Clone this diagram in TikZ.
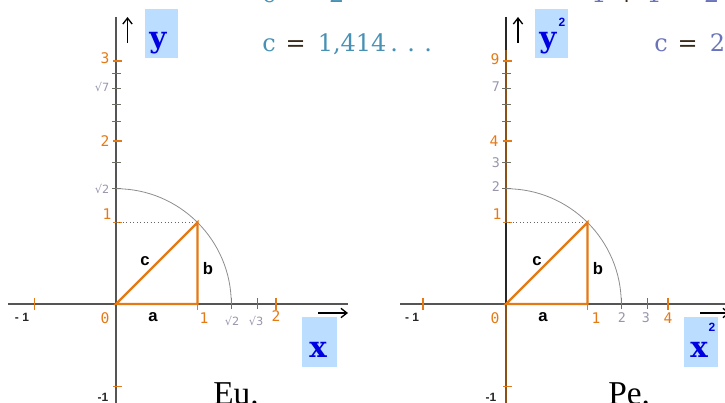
\documentclass[tikz,border=0pt]{standalone}
\usepackage{fontspec}
\setmainfont{DejaVu Serif}
\newfontfamily\monof{DejaVu Sans Mono}
\newfontfamily\sansf{DejaVu Sans}
\newfontfamily\arialf{Liberation Sans}
\newfontfamily\serifb{DejaVu Serif}
\newfontfamily\timesf{Liberation Serif}
\usetikzlibrary{arrows.meta}
\definecolor{orng}{RGB}{228,122,22}
\definecolor{lgray}{RGB}{150,150,172}
\definecolor{axgray}{RGB}{85,85,85}
\definecolor{tkgray}{RGB}{110,110,100}
\definecolor{arcgray}{RGB}{140,140,140}
\definecolor{boxblue}{RGB}{187,221,255}
\definecolor{vblue}{RGB}{0,0,225}
\definecolor{tealc}{RGB}{72,145,180}
\definecolor{slatec}{RGB}{105,115,185}
\definecolor{opc}{RGB}{55,40,25}
\definecolor{brownax}{RGB}{140,80,20}
\tikzset{
  ol/.style={font=\monof\fontsize{11}{11}\selectfont, text=orng, inner sep=0pt},
  gl/.style={font=\sansf\fontsize{8.5}{8.5}\selectfont, text=lgray, inner sep=0pt},
  glm/.style={font=\monof\fontsize{10}{10}\selectfont, text=lgray, inner sep=0pt},
  nl/.style={font=\arialf\bfseries\fontsize{9}{9}\selectfont, text=black!85, inner sep=0pt},
  sl/.style={font=\arialf\bfseries\fontsize{12.5}{12.5}\selectfont, inner sep=0pt},
  bigv/.style={font=\serifb\bfseries\fontsize{22}{22}\selectfont, text=vblue, inner sep=0pt},
  supv/.style={font=\arialf\bfseries\fontsize{9}{9}\selectfont, text=vblue, inner sep=0pt},
  lbox/.style={fill=boxblue, draw=none},
  axisline/.style={line width=1.1pt, draw=axgray},
  gtick/.style={line width=0.7pt, draw=tkgray},
  otick/.style={line width=1.2pt, draw=orng},
  tri/.style={draw=orng, line width=1.6pt},
  arcl/.style={draw=arcgray, line width=0.6pt},
  dotl/.style={draw=black!60, line width=0.6pt, dotted},
  arr/.style={-{Straight Barb[length=4.5pt,width=7pt]}, line width=1pt, draw=black},
  eqtext/.style={font=\fontsize{18}{18}\selectfont, inner sep=0pt, anchor=base west},
  captxt/.style={font=\timesf\fontsize{25}{25}\selectfont, inner sep=0pt, anchor=base west}
}
\begin{document}
\begin{tikzpicture}[x=0.75pt,y=-0.75pt]
\useasboundingbox (0,0) rectangle (725,403);
\clip (0,0) rectangle (725,403);

% ---------- top formulas ----------
\node[eqtext] (f1) at (262,2.5) {\color{tealc}c\textsuperscript{2}\hspace{7.5pt}\color{opc}=\hspace{9pt}\color{tealc}2};
\node[eqtext] (f2) at (262,52) {\color{tealc}c\hspace{7.5pt}\color{opc}=\hspace{9pt}\color{tealc}1,414\hspace{3pt}.\hspace{7pt}.\hspace{7pt}.};
\node[eqtext] (f3) at (591,2.5) {\color{slatec}1\hspace{7.5pt}\color{opc}+\hspace{7.5pt}\color{slatec}1\hspace{7.5pt}\color{opc}=\hspace{9pt}\color{slatec}2};
\node[eqtext] (f4) at (654,52) {\color{slatec}c\hspace{7.5pt}\color{opc}=\hspace{9pt}\color{slatec}2};

% ================= LEFT PANEL (Eu.) =================
\coordinate (O1) at (116,304);
\coordinate (A1) at (197.5,304);
\coordinate (B1) at (197.5,222.5);
\coordinate (Yt1) at (116,17);
\coordinate (Yb1) at (116,403);
\coordinate (Xl1) at (8,304);
\coordinate (Xr1) at (348,304);
\coordinate (R1t) at (116,188.7);

\fill[lbox] (145,9) rectangle (178,58);
\fill[lbox] (302,317) rectangle (337,367);
\node[bigv, anchor=base] (yl1) at (158,48) {y};
\node[bigv, anchor=base] (xl1) at (318,357) {x};

\draw[axisline] (Yt1) -- (Yb1);
\draw[axisline] (Xl1) -- (Xr1);

% y ticks
\foreach \n in {2,3,5,6,7,8}{\draw[gtick] (112,{304-81.5*sqrt(\n)}) -- (121,{304-81.5*sqrt(\n)});}
\draw[otick] (113,222.5) -- (122,222.5);
\draw[otick] (113,141) -- (122,141);
\draw[otick] (113,61) -- (122,61);
\draw[otick] (113,386.5) -- (122,386.5);
% x ticks
\draw[otick] (34.5,298) -- (34.5,310);
\draw[otick] (197.5,298) -- (197.5,310);
\draw[gtick] (231.3,298) -- (231.3,309);
\draw[gtick] (257,298) -- (257,309);
\draw[otick] (276,298) -- (276,310);

\draw[arcl] (R1t) arc[start angle=-90, end angle=0, radius=115.3];
\draw[dotl] (116,222.5) -- (B1);
\draw[tri] (O1) -- (A1) -- (B1) -- cycle;

\draw[arr] (127.5,43) -- (127.5,17);
\draw[arr] (318,313) -- (348,313);

% labels
\node[ol] (l3) at (105,58) {3};
\node[gl] (ls7) at (102,87) {√7};
\node[ol] (l2) at (105,141) {2};
\node[gl] (ls2) at (102,189) {√2};
\node[ol] (l1) at (107,214) {1};
\node[nl] (lm1y) at (103,397) {-1};
\node[nl] (lm1x) at (22,317) {- 1};
\node[ol] (l0) at (105,318) {0};
\node[sl] (la) at (153,317) {a};
\node[ol] (l1x) at (204,318) {1};
\node[gl] (ls2x) at (232,321) {√2};
\node[gl] (ls3x) at (256,321) {√3};
\node[ol] (l2x) at (276,316) {2};
\node[sl] (lc) at (145,261) {c};
\node[sl] (lb) at (208,269) {b};
\node[captxt] (eu) at (213,404) {Eu.};

% ================= RIGHT PANEL (Pe.) =================
\coordinate (O2) at (506,304);
\coordinate (A2) at (587.5,304);
\coordinate (B2) at (587.5,222.5);
\coordinate (Yt2) at (506,17);
\coordinate (Yb2) at (506,403);
\coordinate (Xl2) at (400,304);
\coordinate (Xr2) at (730,304);
\coordinate (R2t) at (506,188.7);

\fill[lbox] (535,9) rectangle (568,58);
\fill[lbox] (684,317) rectangle (718,367);
\node[bigv, anchor=base] (yl2) at (548,48) {y};
\node[supv] (ys2) at (562,22) {2};
\node[bigv, anchor=base] (xl2) at (699,357) {x};
\node[supv] (xs2) at (712,327) {2};

\draw[line width=1.1pt, draw=brownax] (Yt2) -- (Yb2);
\draw[line width=1.1pt, draw=black!85] (Yt2) -- (506,50);
\draw[line width=1.1pt, draw=black!85] (506,222.5) -- (O2);
\draw[axisline] (Xl2) -- (Xr2);

\foreach \n in {2,3,5,6,7,8}{\draw[gtick] (502,{304-81.5*sqrt(\n)}) -- (511,{304-81.5*sqrt(\n)});}
\draw[otick] (503,222.5) -- (512,222.5);
\draw[otick] (503,141) -- (512,141);
\draw[otick] (503,61) -- (512,61);
\draw[otick] (503,386.5) -- (512,386.5);
\draw[otick] (423,298) -- (423,310);
\draw[otick] (587.5,298) -- (587.5,310);
\draw[gtick] (621.3,298) -- (621.3,309);
\draw[gtick] (647,298) -- (647,309);
\draw[otick] (668,298) -- (668,310);

\draw[arcl] (R2t) arc[start angle=-90, end angle=0, radius=115.3];
\draw[dotl] (506,222.5) -- (B2);
\draw[tri] (O2) -- (A2) -- (B2) -- cycle;

\draw[arr] (518,43) -- (518,17);
\draw[arr] (700,313) -- (730,313);

\node[ol] (r9) at (495,59) {9};
\node[glm] (r7) at (496,87) {7};
\node[ol] (r4) at (494,141) {4};
\node[glm] (r3) at (496,163) {3};
\node[glm] (r2) at (496,187) {2};
\node[ol] (r1) at (497,214) {1};
\node[nl] (rm1y) at (491,397) {-1};
\node[nl] (rm1x) at (412,317) {- 1};
\node[ol] (r0) at (495,318) {0};
\node[sl] (ra) at (543,317) {a};
\node[ol] (r1x) at (596,318) {1};
\node[glm] (r2x) at (622,318) {2};
\node[glm] (r3x) at (646,318) {3};
\node[ol] (r4x) at (668,318) {4};
\node[sl] (rc) at (537,261) {c};
\node[sl] (rb) at (598,269) {b};
\node[captxt] (pe) at (608,404) {Pe.};
\end{tikzpicture}
\end{document}
